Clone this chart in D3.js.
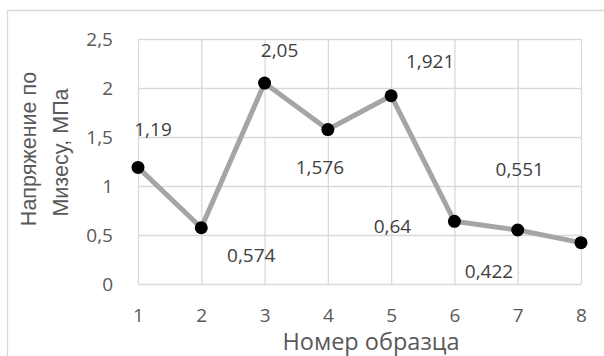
<!DOCTYPE html>
<html>
<head>
<meta charset="utf-8">
<script src="https://cdn.jsdelivr.net/npm/d3@7"></script>
<style>
    html, body { margin: 0; padding: 0; background: #fff; }
    svg { display: block; }
</style>
</head>
<body>
<svg id="chart" width="604" height="356"></svg>
<script>
// Данные графика
const categories = ['1', '2', '3', '4', '5', '6', '7', '8'];
const values = [1.19, 0.574, 2.05, 1.576, 1.921, 0.64, 0.551, 0.422];
const yTicks = [0, 0.5, 1, 1.5, 2, 2.5];
const xTitle = 'Номер образца';
const yTitleLines = ['Напряжение по', 'Мизесу, МПа'];

// Смещения подписей данных (центр текста, базовая линия) относительно точки
const labelOffsets = [
    [15, -31], [50, 34], [15, -26], [-8, 44],
    [39, -28], [-62, 12], [2, -54], [-92, 35]
];

const plot = { left: 138, right: 581, top: 39, bottom: 284 };
const gridColor = '#d9d9d9';
const fmt = d => String(d).replace('.', ',');

const svg = d3.select('#chart');

// Рамка диаграммы (обрезана справа и снизу)
svg.append('path')
    .attr('d', 'M7.5,356 L7.5,10.5 L604,10.5')
    .attr('fill', 'none')
    .attr('stroke', gridColor)
    .attr('stroke-width', 1.3);

const x = d3.scalePoint()
    .domain(categories)
    .range([plot.left, plot.right])
    .padding(0);

const y = d3.scaleLinear()
    .domain([0, 2.5])
    .range([plot.bottom, plot.top]);

// Горизонтальная сетка + подписи оси Y
const yAxis = svg.append('g')
    .attr('transform', `translate(${plot.left},0)`)
    .call(d3.axisLeft(y).tickValues(yTicks).tickFormat(fmt)
        .tickSize(-(plot.right - plot.left)).tickPadding(25));
yAxis.select('.domain').remove();
yAxis.selectAll('.tick line').attr('stroke', gridColor).attr('stroke-width', 1.3);
yAxis.selectAll('.tick text')
    .attr('fill', '#595959')
    .style('font-family', '"Open Sans", sans-serif')
    .style('font-size', '19px')
    .attr('dy', '0.36em');

// Вертикальная сетка + подписи оси X
const xAxis = svg.append('g')
    .attr('transform', `translate(0,${plot.bottom})`)
    .call(d3.axisBottom(x).tickSize(-(plot.bottom - plot.top)).tickPadding(0));
xAxis.select('.domain').remove();
xAxis.selectAll('.tick line').attr('stroke', gridColor).attr('stroke-width', 1.3);
xAxis.selectAll('.tick text')
    .attr('fill', '#595959')
    .attr('y', 38)
    .attr('dy', 0)
    .style('font-family', '"Open Sans", sans-serif')
    .style('font-size', '19px');

// Линия
const line = d3.line()
    .x((d, i) => x(categories[i]))
    .y(d => y(d));

svg.append('path')
    .datum(values)
    .attr('d', line)
    .attr('fill', 'none')
    .attr('stroke', '#a5a5a5')
    .attr('stroke-width', 5)
    .attr('stroke-linejoin', 'round');

// Маркеры
svg.selectAll('.dot')
    .data(values)
    .enter().append('circle')
    .attr('class', 'dot')
    .attr('cx', (d, i) => x(categories[i]))
    .attr('cy', d => y(d))
    .attr('r', 6.5)
    .attr('fill', '#000');

// Подписи данных
svg.selectAll('.val')
    .data(values)
    .enter().append('text')
    .attr('class', 'val')
    .attr('x', (d, i) => x(categories[i]) + labelOffsets[i][0])
    .attr('y', (d, i) => y(d) + labelOffsets[i][1])
    .attr('text-anchor', 'middle')
    .attr('fill', '#404040')
    .style('font-family', '"Open Sans", sans-serif')
    .style('font-size', '19px')
    .text(fmt);

// Название оси X
svg.append('text')
    .attr('x', 371)
    .attr('y', 350)
    .attr('text-anchor', 'middle')
    .attr('fill', '#595959')
    .style('font-family', '"Open Sans", sans-serif')
    .style('font-size', '23.5px')
    .text(xTitle);

// Название оси Y (две строки)
const yTitlePos = [[36, 149], [68, 152.5]];
svg.selectAll('.ytitle')
    .data(yTitleLines)
    .enter().append('text')
    .attr('class', 'ytitle')
    .attr('transform', (d, i) => `translate(${yTitlePos[i][0]},${yTitlePos[i][1]}) rotate(-90)`)
    .attr('text-anchor', 'middle')
    .attr('fill', '#595959')
    .style('font-family', '"Liberation Sans", Arial, sans-serif')
    .style('font-size', '21.5px')
    .text(d => d);
</script>
</body>
</html>
